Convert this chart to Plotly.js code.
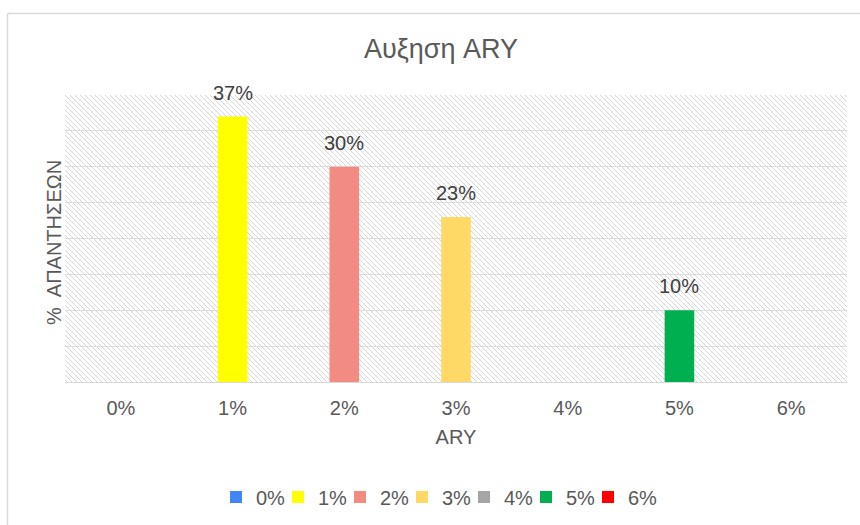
<!DOCTYPE html>
<html>
<head>
<meta charset="utf-8">
<script src="https://cdn.plot.ly/plotly-3.0.1.min.js"></script>
<style>
  html, body { margin: 0; padding: 0; background: #ffffff; }
  #chart { width: 860px; height: 525px; }
</style>
</head>
<body>
<div id="chart"></div>
<script>
// ---- data ----
const categories = ['0%', '1%', '2%', '3%', '4%', '5%', '6%'];
const values = [0, 37, 30, 23, 0, 10, 0];
const colors = ['#4285F4', '#FFFF00', '#F28B82', '#FFD966', '#A5A5A5', '#00B050', '#FF0000'];
const chartTitle = 'Αυξηση ARY';
const xTitle = 'ARY';
const yTitle = '%  ΑΠΑΝΤΗΣΕΩΝ';

const FONT = '"Liberation Sans", Arial, sans-serif';

// one trace per category so each appears in the legend
const traces = categories.map((c, i) => ({
  type: 'bar',
  name: c,
  x: [c],
  y: [values[i]],
  width: 0.265,
  marker: { color: colors[i] },
  hoverinfo: 'x+y'
}));

const L = 65, R = 13, T = 95, B = 143;
const pw = 860 - L - R, ph = 525 - T - B;
const px = v => (v - L) / pw;
const py = v => (525 - B - v) / ph;

// value labels above the bars
const annotations = categories
  .map((c, i) => ({ c, v: values[i] }))
  .filter(d => d.v > 0)
  .map(d => ({
    x: d.c, y: d.v, xref: 'x', yref: 'y',
    text: d.v + '%',
    showarrow: false,
    yanchor: 'bottom',
    yshift: 11,
    font: { family: FONT, size: 20, color: '#404040' }
  }));

// y-axis title as rotated annotation
annotations.push({
  xref: 'paper', yref: 'paper',
  x: px(54), y: py(243),
  xanchor: 'center', yanchor: 'middle',
  text: yTitle, textangle: -90, showarrow: false,
  font: { family: FONT, size: 20, color: '#595959' }
});

// diagonal hatch background for the plot area
const hatchSvg =
  '<svg xmlns="http://www.w3.org/2000/svg" width="782" height="287">' +
  '<defs><pattern id="p" patternUnits="userSpaceOnUse" width="5" height="5">' +
  '<path d="M-1,-1 L6,6 M-1,4 L1,6 M4,-1 L6,1" stroke="#d6d6d6" stroke-width="1"/>' +
  '</pattern></defs><rect width="782" height="287" fill="url(#p)"/></svg>';
const hatchSrc = 'data:image/svg+xml;base64,' + btoa(hatchSvg);

const layout = {
  width: 860,
  height: 525,
  margin: { l: L, r: R, t: T, b: B, pad: 0 },
  paper_bgcolor: '#ffffff',
  plot_bgcolor: '#ffffff',
  barmode: 'overlay',
  showlegend: true,
  font: { family: FONT, color: '#595959' },
  title: {
    text: chartTitle,
    font: { family: FONT, size: 27, color: '#595959' },
    x: 441 / 860, xref: 'container', xanchor: 'center',
    y: 1 - 49 / 525, yref: 'container', yanchor: 'middle'
  },
  xaxis: {
    type: 'category',
    categoryorder: 'array',
    categoryarray: categories,
    showgrid: false,
    zeroline: false,
    showline: true,
    linecolor: '#d9d9d9',
    linewidth: 1,
    ticks: '',
    ticklabelstandoff: 8,
    tickfont: { family: FONT, size: 20, color: '#595959' },
    title: { text: xTitle, font: { family: FONT, size: 20, color: '#595959' }, standoff: 11 },
    fixedrange: true
  },
  yaxis: {
    range: [0, 40],
    dtick: 5,
    showticklabels: false,
    showgrid: true,
    gridcolor: '#dcdcdc',
    gridwidth: 1,
    zeroline: false,
    showline: false,
    ticks: '',
    fixedrange: true
  },
  legend: {
    orientation: 'h',
    x: px(216), xanchor: 'left',
    y: 1 - 497 / 525, yref: 'container', yanchor: 'middle',
    entrywidth: 17, entrywidthmode: 'pixels',
    bgcolor: 'rgba(0,0,0,0)',
    font: { family: FONT, size: 20, color: '#595959' },
    itemclick: false, itemdoubleclick: false,
    traceorder: 'normal'
  },
  images: [{
    source: hatchSrc,
    xref: 'paper', yref: 'paper',
    x: 0, y: 1, sizex: 1, sizey: 1,
    xanchor: 'left', yanchor: 'top',
    sizing: 'stretch',
    layer: 'below'
  }],
  shapes: [
    { type: 'line', xref: 'paper', yref: 'paper', x0: px(7.5), x1: px(870), y0: py(13.5), y1: py(13.5),
      line: { color: '#d9d9d9', width: 1.5 } },
    { type: 'line', xref: 'paper', yref: 'paper', x0: px(7.5), x1: px(7.5), y0: py(13.5), y1: py(540),
      line: { color: '#d9d9d9', width: 1.5 } }
  ],
  annotations: annotations
};

Plotly.newPlot('chart', traces, layout, { displayModeBar: false, staticPlot: true }).then(gd => {
  // let the last (compact) legend entry draw past the legend box edge
  gd.querySelectorAll('.legend [clip-path]').forEach(el => el.removeAttribute('clip-path'));
});
</script>
</body>
</html>
